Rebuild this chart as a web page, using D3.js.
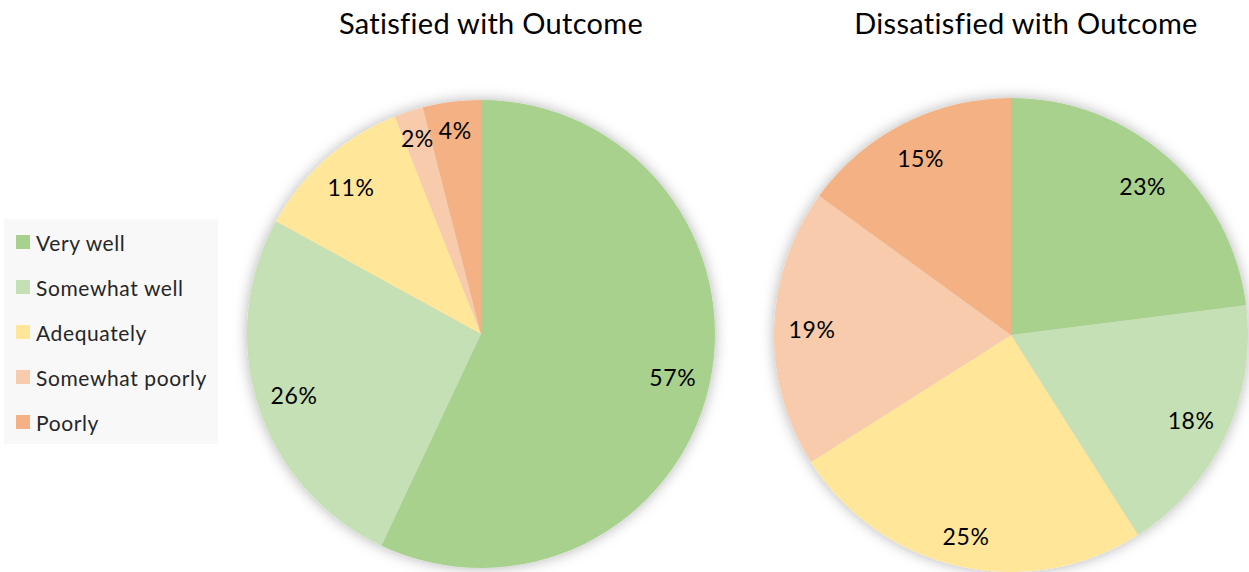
<!DOCTYPE html>
<html>
<head>
<meta charset="utf-8">
<script src="https://cdn.jsdelivr.net/npm/d3@7"></script>
<style>
  html, body { margin: 0; padding: 0; background: #ffffff; }
  svg { display: block; font-family: Lato, "Open Sans", sans-serif; }
</style>
</head>
<body>
<svg id="chart" width="1249" height="572"></svg>
<script>
// ---- data ----
const categories = ["Very well", "Somewhat well", "Adequately", "Somewhat poorly", "Poorly"];
const satisfiedValues = [57, 26, 11, 2, 4];
const dissatisfiedValues = [23, 18, 25, 19, 15];
const chartTitles = ["Satisfied with Outcome", "Dissatisfied with Outcome"];
const colors = ["#a9d18e", "#c5e0b4", "#ffe699", "#f8cbad", "#f4b183"];

const svg = d3.select("#chart");

// shadow / glow filter
const defs = svg.append("defs");
const f = defs.append("filter").attr("id", "glow")
  .attr("x", "-20%").attr("y", "-20%").attr("width", "140%").attr("height", "140%");
f.append("feGaussianBlur").attr("in", "SourceAlpha").attr("stdDeviation", 7).attr("result", "blur");
f.append("feFlood").attr("flood-color", "#000").attr("flood-opacity", 0.3).attr("result", "col");
f.append("feComposite").attr("in", "col").attr("in2", "blur").attr("operator", "in").attr("result", "shadow");
const fm = f.append("feMerge");
fm.append("feMergeNode").attr("in", "shadow");
fm.append("feMergeNode").attr("in", "SourceGraphic");

const color = d3.scaleOrdinal().domain(categories).range(colors);

const pies = [
  { title: chartTitles[0], values: satisfiedValues, cx: 481, cy: 334, r: 234, tx: 491 },
  { title: chartTitles[1], values: dissatisfiedValues, cx: 1011, cy: 335, r: 237, tx: 1026 }
];

const pieGen = d3.pie().sort(null).value(d => d.value);

pies.forEach(p => {
  const data = categories.map((c, i) => ({ cat: c, value: p.values[i] }));
  const arcs = pieGen(data);
  const g = svg.append("g").attr("transform", `translate(${p.cx},${p.cy})`);
  const arc = d3.arc().innerRadius(0).outerRadius(p.r);
  g.append("g").attr("filter", "url(#glow)")
    .selectAll("path").data(arcs).enter().append("path")
    .attr("d", arc)
    .attr("fill", d => color(d.data.cat));

  g.selectAll("text.lbl").data(arcs).enter().append("text")
    .attr("class", "lbl")
    .attr("transform", d => {
      const frac = d.data.value < 5 ? 0.88 : (d.data.value === 25 ? 0.87 : 0.84);
      const la = d3.arc().innerRadius(p.r * frac).outerRadius(p.r * frac);
      const [x, y] = la.centroid(d);
      return `translate(${x},${y})`;
    })
    .attr("text-anchor", "middle")
    .attr("dominant-baseline", "central")
    .attr("font-size", 23)
    .attr("letter-spacing", 0.6)
    .attr("fill", "#000")
    .text(d => d.data.value + "%");

  svg.append("text")
    .attr("x", p.tx).attr("y", 34)
    .attr("text-anchor", "middle")
    .attr("font-size", 29)
    .attr("letter-spacing", 0.3)
    .attr("fill", "#000")
    .text(p.title);
});

// legend
const lg = svg.append("g");
lg.append("rect").attr("x", 4).attr("y", 219).attr("width", 214).attr("height", 225).attr("fill", "#f8f8f8");
const ly = d3.scalePoint().domain(categories).range([242, 422]);
const items = lg.selectAll("g.item").data(categories).enter().append("g")
  .attr("transform", d => `translate(0,${ly(d)})`);
items.append("rect").attr("x", 16).attr("y", -7).attr("width", 14).attr("height", 14)
  .attr("fill", d => color(d));
items.append("text").attr("x", 36).attr("y", 0)
  .attr("dominant-baseline", "central")
  .attr("font-size", 21).attr("letter-spacing", 0.6).attr("fill", "#262626")
  .text(d => d);
</script>
</body>
</html>
